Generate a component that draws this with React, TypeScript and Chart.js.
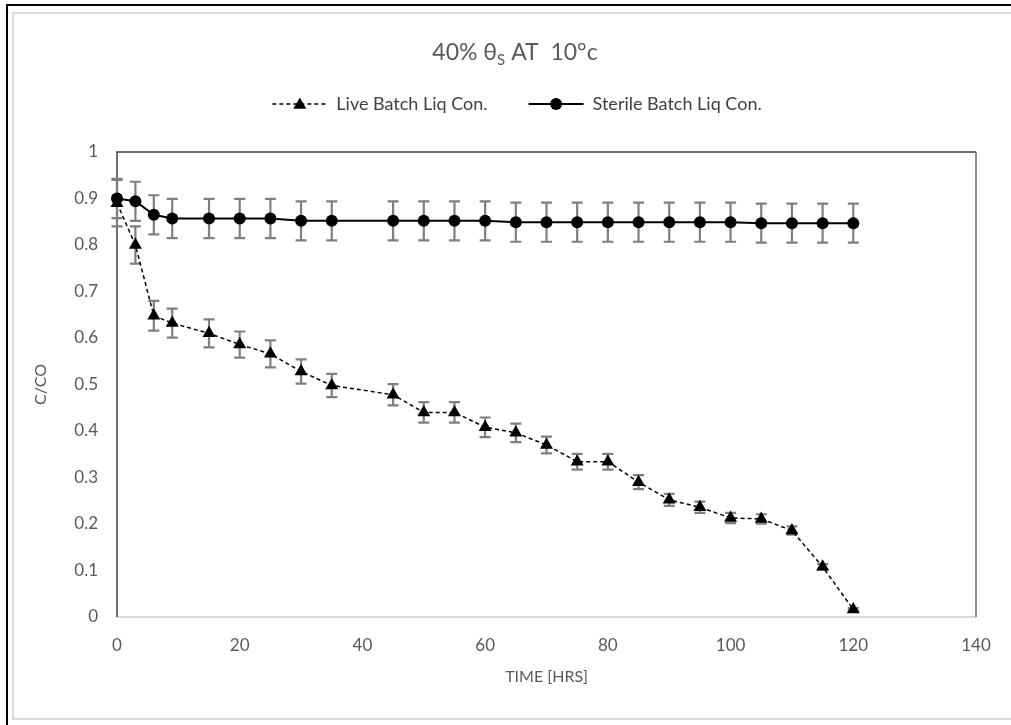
import React, { useEffect, useRef } from "react";
import { Chart, registerables } from "chart.js";

Chart.register(...registerables);

// ---------- data ----------
const timeHrs = [0, 3, 6, 9, 15, 20, 25, 30, 35, 45, 50, 55, 60, 65, 70, 75, 80, 85, 90, 95, 100, 105, 110, 115, 120];
const liveValues = [0.89, 0.8, 0.648, 0.632, 0.61, 0.586, 0.566, 0.528, 0.498, 0.478, 0.44, 0.44, 0.408, 0.396, 0.37, 0.334, 0.334, 0.29, 0.252, 0.236, 0.213, 0.211, 0.186, 0.108, 0.016];
const liveErrors = [0.05, 0.04, 0.032, 0.031, 0.03, 0.028, 0.029, 0.026, 0.025, 0.023, 0.022, 0.022, 0.021, 0.02, 0.018, 0.017, 0.017, 0.015, 0.013, 0.012, 0.011, 0.01, 0.009, 0.006, 0.003];
const sterileValues = [0.9, 0.894, 0.865, 0.857, 0.857, 0.857, 0.857, 0.852, 0.852, 0.852, 0.852, 0.852, 0.852, 0.849, 0.849, 0.849, 0.849, 0.849, 0.849, 0.849, 0.849, 0.847, 0.847, 0.847, 0.847];
const sterileErrors = [0.042, 0.042, 0.042, 0.042, 0.042, 0.042, 0.042, 0.042, 0.042, 0.042, 0.042, 0.042, 0.042, 0.042, 0.042, 0.042, 0.042, 0.042, 0.042, 0.042, 0.042, 0.042, 0.042, 0.042, 0.042];
const seriesNames = ["Live Batch Liq Con.", "Sterile Batch Liq Con."];
const titleMain = "40% θ";
const titleSub = "S";
const titleRest = " AT  10°c";
const xAxisTitle = "TIME [HRS]";
const yAxisTitle = "C/CO";
const xTickValues = [0, 20, 40, 60, 80, 100, 120, 140];
const yTickLabels = ["0", "0.1", "0.2", "0.3", "0.4", "0.5", "0.6", "0.7", "0.8", "0.9", "1"];

const FONT = "Lato, 'Open Sans', sans-serif";
const TEXT_GRAY = "#595959";

function drawTriangle(ctx: CanvasRenderingContext2D, x: number, y: number, r: number) {
  ctx.beginPath();
  for (let i = 0; i < 3; i++) {
    const a = (i * 2 * Math.PI) / 3;
    const px = x + Math.sin(a) * r;
    const py = y - Math.cos(a) * r;
    if (i === 0) ctx.moveTo(px, py);
    else ctx.lineTo(px, py);
  }
  ctx.closePath();
  ctx.fill();
}

export default function App() {
  const ref = useRef<HTMLCanvasElement>(null);

  useEffect(() => {
    const canvas = ref.current;
    if (!canvas) return;

    const framePlugin = {
      id: "frame",
      beforeDraw(chart: any) {
        const ctx = chart.ctx as CanvasRenderingContext2D;
        ctx.save();
        ctx.fillStyle = "#ffffff";
        ctx.fillRect(0, 0, chart.width, chart.height);
        ctx.fillStyle = "#000000";
        ctx.fillRect(6, 4, 2, chart.height - 4);
        ctx.fillRect(6, 4, chart.width - 6, 2);
        ctx.fillStyle = "#d9d9d9";
        ctx.fillRect(12, 12, chart.width - 12, 2);
        ctx.fillRect(12, 12, 2, 708);
        ctx.fillRect(12, 718, chart.width - 12, 2);
        ctx.restore();
      },
    };

    const plotBorderPlugin = {
      id: "plotBorder",
      beforeDatasetsDraw(chart: any) {
        const ctx = chart.ctx as CanvasRenderingContext2D;
        const { left, right, top, bottom } = chart.chartArea;
        ctx.save();
        ctx.fillStyle = "#d9d9d9";
        ctx.fillRect(left, bottom - 1, right - left, 2);
        ctx.strokeStyle = "#404040";
        ctx.lineWidth = 1.5;
        ctx.beginPath();
        ctx.moveTo(left, bottom);
        ctx.lineTo(left, top);
        ctx.lineTo(right, top);
        ctx.stroke();
        ctx.strokeStyle = "#6a6a6a";
        ctx.beginPath();
        ctx.moveTo(right, top);
        ctx.lineTo(right, bottom);
        ctx.stroke();
        ctx.restore();
      },
    };

    const errorBarPlugin = {
      id: "errorBars",
      beforeDatasetsDraw(chart: any) {
        const ctx = chart.ctx as CanvasRenderingContext2D;
        const xs = chart.scales.x;
        const ys = chart.scales.y;
        const sets = [
          { v: sterileValues, e: sterileErrors },
          { v: liveValues, e: liveErrors },
        ];
        ctx.save();
        ctx.strokeStyle = "#7f7f7f";
        ctx.lineWidth = 2.2;
        const cap = 5.5;
        sets.forEach(({ v, e }) => {
          v.forEach((val, i) => {
            const px = xs.getPixelForValue(timeHrs[i]);
            const yTop = ys.getPixelForValue(val + e[i]);
            const yBot = ys.getPixelForValue(val - e[i]);
            ctx.beginPath();
            ctx.moveTo(px, yTop);
            ctx.lineTo(px, yBot);
            ctx.moveTo(px - cap, yTop);
            ctx.lineTo(px + cap, yTop);
            ctx.moveTo(px - cap, yBot);
            ctx.lineTo(px + cap, yBot);
            ctx.stroke();
          });
        });
        ctx.restore();
      },
    };

    const titleLegendPlugin = {
      id: "titleLegend",
      afterDraw(chart: any) {
        const ctx = chart.ctx as CanvasRenderingContext2D;
        ctx.save();
        // Title
        const mainFont = `23px ${FONT}`;
        const subFont = `15px ${FONT}`;
        ctx.font = mainFont;
        const w1 = ctx.measureText(titleMain).width;
        const w3 = ctx.measureText(titleRest).width;
        ctx.font = subFont;
        const w2 = ctx.measureText(titleSub).width;
        const cx = 515;
        let x = cx - (w1 + w2 + w3) / 2;
        const baseY = 60;
        ctx.fillStyle = TEXT_GRAY;
        ctx.textBaseline = "alphabetic";
        ctx.textAlign = "left";
        ctx.font = mainFont;
        ctx.fillText(titleMain, x, baseY);
        x += w1;
        ctx.font = subFont;
        ctx.fillText(titleSub, x, baseY + 5);
        x += w2;
        ctx.font = mainFont;
        ctx.fillText(titleRest, x, baseY);

        // Legend
        const legFont = `18px ${FONT}`;
        ctx.font = legFont;
        const sampleLen = 55;
        const gapText = 9;
        const gapItems = 41;
        const tw = seriesNames.map((s) => ctx.measureText(s).width);
        const total = sampleLen + gapText + tw[0] + gapItems + sampleLen + gapText + tw[1];
        let lx = 517 - total / 2;
        const ly = 104;
        seriesNames.forEach((name, i) => {
          ctx.strokeStyle = "#000";
          ctx.fillStyle = "#000";
          ctx.lineWidth = i === 0 ? 1.5 : 2;
          ctx.setLineDash(i === 0 ? [4, 3] : []);
          ctx.beginPath();
          ctx.moveTo(lx, ly);
          ctx.lineTo(lx + sampleLen, ly);
          ctx.stroke();
          ctx.setLineDash([]);
          const mx = lx + sampleLen / 2;
          if (i === 0) {
            drawTriangle(ctx, mx, ly + 1, 7.5);
          } else {
            ctx.beginPath();
            ctx.arc(mx, ly, 6, 0, Math.PI * 2);
            ctx.fill();
          }
          ctx.fillStyle = "#404040";
          ctx.textBaseline = "middle";
          ctx.fillText(name, lx + sampleLen + gapText, ly);
          lx += sampleLen + gapText + tw[i] + gapItems;
        });
        ctx.restore();
      },
    };

    const chart = new Chart(canvas, {
      type: "line",
      data: {
        datasets: [
          {
            label: seriesNames[0],
            data: timeHrs.map((t, i) => ({ x: t, y: liveValues[i] })),
            borderColor: "#000",
            backgroundColor: "#000",
            borderWidth: 1.5,
            borderDash: [4, 3],
            pointStyle: "triangle",
            pointRadius: 7.5,
            pointBorderWidth: 0,
            pointBackgroundColor: "#000",
            clip: false as any,
            order: 2,
          },
          {
            label: seriesNames[1],
            data: timeHrs.map((t, i) => ({ x: t, y: sterileValues[i] })),
            borderColor: "#000",
            backgroundColor: "#000",
            borderWidth: 2,
            pointStyle: "circle",
            pointRadius: 6,
            pointBorderWidth: 0,
            pointBackgroundColor: "#000",
            clip: false as any,
            order: 1,
          },
        ],
      },
      options: {
        animation: false,
        responsive: false,
        devicePixelRatio: 1,
        layout: { padding: { left: 0, right: 35, top: 152, bottom: 0 } },
        plugins: {
          legend: { display: false },
          title: { display: false },
          tooltip: { enabled: false },
        },
        scales: {
          x: {
            type: "linear",
            min: 0,
            max: 140,
            afterBuildTicks(scale: any) {
              scale.ticks = xTickValues.map((v) => ({ value: v }));
            },
            afterFit(scale: any) {
              scale.height = 108;
            },
            grid: { display: false, drawTicks: false },
            border: { display: false },
            ticks: {
              color: TEXT_GRAY,
              font: { family: FONT, size: 17 },
              padding: 18,
              maxRotation: 0,
              callback: (v: any) => String(v),
            },
            title: {
              display: true,
              text: xAxisTitle,
              color: TEXT_GRAY,
              font: { family: FONT, size: 16 },
              padding: { top: 0, bottom: 39 },
            },
          },
          y: {
            type: "linear",
            min: 0,
            max: 1,
            afterBuildTicks(scale: any) {
              scale.ticks = yTickLabels.map((_, i) => ({ value: i / 10 }));
            },
            afterFit(scale: any) {
              scale.width = 117;
            },
            grid: { display: false, drawTicks: false },
            border: { display: false },
            ticks: {
              color: TEXT_GRAY,
              font: { family: FONT, size: 17 },
              padding: 19,
              callback: (_v: any, i: number) => yTickLabels[i],
            },
            title: {
              display: true,
              text: yAxisTitle,
              color: TEXT_GRAY,
              font: { family: FONT, size: 16 },
              padding: { top: 31, bottom: 0 },
            },
          },
        },
      },
      plugins: [framePlugin, plotBorderPlugin, errorBarPlugin, titleLegendPlugin],
    });

    return () => chart.destroy();
  }, []);

  return (
    <canvas
      ref={ref}
      width={1011}
      height={725}
      style={{ position: "fixed", left: 0, top: 0, display: "block" }}
    />
  );
}
